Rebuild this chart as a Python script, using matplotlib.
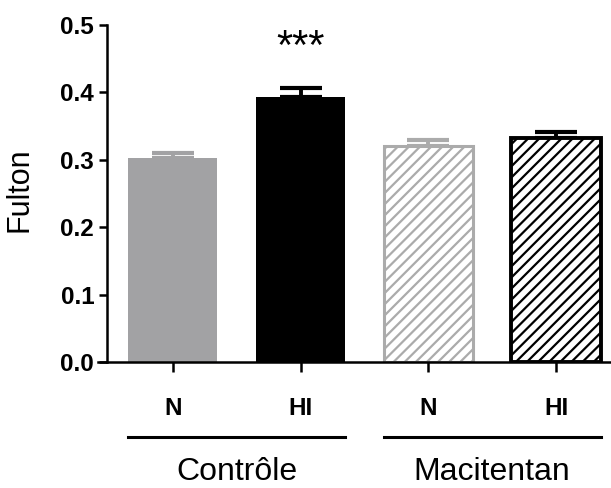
import matplotlib
matplotlib.use("Agg")
import matplotlib.pyplot as plt
import matplotlib.transforms as mtransforms

# data
groups = ["Contrôle", "Macitentan"]
conditions = ["N", "HI", "N", "HI"]
fulton_mean = [0.302, 0.393, 0.320, 0.333]
fulton_sem = [0.008, 0.014, 0.010, 0.008]
y_ticks = [0.0, 0.1, 0.2, 0.3, 0.4, 0.5]

plt.rcParams["font.family"] = ["Liberation Sans", "DejaVu Sans"]
plt.rcParams["hatch.linewidth"] = 1.6

gray = "#a2a2a4"
light_gray = "#ababab"
face_colors = [gray, "black", "white", "white"]
edge_colors = [gray, "black", light_gray, "black"]
err_colors = [gray, "black", light_gray, "black"]
hatches = [None, None, "///", "///"]
edge_widths = [0, 0, 2.2, 2.8]

fig = plt.figure(figsize=(6.11, 4.88), dpi=100)
ax = fig.add_axes([0.160, 0.258, 0.84, 0.691])

x = list(range(len(conditions)))
width = 0.7
for i in x:
    ax.errorbar(x[i], fulton_mean[i], yerr=[[0], [fulton_sem[i]]], fmt="none",
                ecolor=err_colors[i], elinewidth=2.8, capsize=15, capthick=3, zorder=1)
    ax.bar(x[i], fulton_mean[i], width=width, color=face_colors[i],
           edgecolor=edge_colors[i], linewidth=edge_widths[i], hatch=hatches[i],
           zorder=2)

ax.set_xlim(-0.587, 3.43)
ax.set_ylim(0, 0.5)
ax.spines["left"].set_position(("data", -0.517))
ax.spines["top"].set_visible(False)
ax.spines["right"].set_visible(False)
for s in ["left", "bottom"]:
    ax.spines[s].set_linewidth(1.8)

ax.set_yticks(y_ticks)
ax.set_yticklabels([f"{v:.1f}" for v in y_ticks], fontsize=17.5, fontweight="bold")
ax.set_xticks(x)
ax.set_xticklabels(conditions, fontsize=17.5, fontweight="bold")
ax.tick_params(axis="y", length=6, width=1.8, pad=3)
ax.tick_params(axis="x", length=7, width=1.8, pad=18)
ax.set_ylabel("Fulton", fontsize=22)
ax.yaxis.set_label_coords(-0.124, 0.51)

# significance
ax.text(x[1], 0.466, "***", ha="center", va="center", fontsize=30)

# group lines and labels
trans = mtransforms.blended_transform_factory(ax.transData, ax.transAxes)
for g, name in enumerate(groups):
    x0 = x[2 * g] - width / 2
    x1 = x[2 * g + 1] + width / 2
    ax.plot([x0, x1], [-0.222, -0.222], color="black", linewidth=2.2,
            transform=trans, clip_on=False)
    ax.text((x0 + x1) / 2, -0.325, name, ha="center", va="center",
            fontsize=23, transform=trans)

fig.savefig("out.png", dpi=100)
